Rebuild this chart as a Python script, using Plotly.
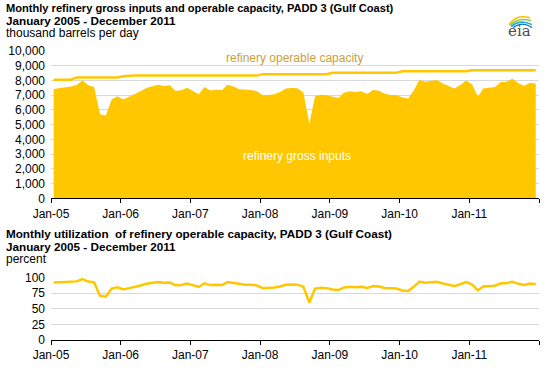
import pandas as pd
import plotly.graph_objects as go
from plotly.subplots import make_subplots

# ---------------- data ----------------
months = pd.date_range("2005-01-01", "2011-12-01", freq="MS") + pd.Timedelta(days=14)

gross_inputs = [
    7420, 7470, 7530, 7600, 7690, 8000, 7670, 7560, 5710, 5620, 6730, 6930,   # 2005
    6710, 6910, 7040, 7270, 7490, 7600, 7710, 7620, 7670, 7290, 7330, 7510,   # 2006
    7290, 7070, 7560, 7320, 7380, 7330, 7710, 7600, 7400, 7380, 7360, 7270,   # 2007
    7000, 7020, 7070, 7220, 7450, 7490, 7470, 7180, 5060, 6930, 7040, 7000,   # 2008
    6890, 6820, 7160, 7270, 7220, 7270, 7090, 7350, 7310, 7100, 7020, 7020,   # 2009
    6840, 6780, 7300, 8050, 7920, 7960, 8040, 7800, 7600, 7450, 7700, 8000,   # 2010
    7750, 6900, 7450, 7480, 7550, 7900, 7920, 8120, 7820, 7650, 7850, 7780,   # 2011
]

operable_capacity = (
    [8050] * 4 + [8200] * 8 +          # 2005
    [8280] + [8330] * 11 +             # 2006
    [8330] * 12 +                      # 2007
    [8430] * 12 +                      # 2008
    [8530] * 12 +                      # 2009
    [8630] * 12 +                      # 2010
    [8700] * 12                        # 2011
)

utilization = [
    92.2, 92.8, 93.5, 94.4, 93.8, 97.6, 93.5, 92.2, 70.5, 69.5, 82.1, 84.5,
    81.0, 83.0, 84.5, 87.3, 89.9, 91.2, 92.6, 91.5, 92.1, 87.5, 88.0, 90.2,
    87.5, 84.9, 90.8, 87.9, 88.6, 88.0, 92.6, 91.2, 88.8, 88.6, 88.4, 87.3,
    83.0, 83.3, 83.9, 85.6, 88.4, 88.8, 88.6, 85.2, 60.0, 82.2, 83.5, 83.0,
    80.8, 80.0, 83.9, 85.2, 84.6, 85.2, 83.1, 86.2, 85.7, 83.2, 82.3, 82.3,
    79.3, 78.6, 84.6, 93.3, 91.8, 92.2, 93.2, 90.4, 88.1, 86.3, 89.2, 92.7,
    89.1, 79.3, 85.6, 86.0, 86.8, 90.8, 91.0, 93.3, 89.9, 87.9, 90.2, 89.4,
]

tick_dates = ["2005-01-01", "2006-01-01", "2007-01-01", "2008-01-01",
              "2009-01-01", "2010-01-01", "2011-01-01", "2012-01-01"]
tick_labels = ["Jan-05", "Jan-06", "Jan-07", "Jan-08", "Jan-09", "Jan-10", "Jan-11", ""]

top_yticks = list(range(0, 10001, 1000))
bottom_yticks = [0, 25, 50, 75, 100]

# ---------------- layout geometry (pixels) ----------------
W, H = 547, 370
L, R, T, B = 48, 8, 51, 23
plot_w = W - L - R
plot_h = H - T - B

def px(x):
    return (x - L) / plot_w

def py(y):
    return (H - B - y) / plot_h

top_domain = [py(202), 1.0]
bot_domain = [0.0, py(283)]

GOLD = "#FFC700"
FONT = "Arial, Liberation Sans, sans-serif"

fig = make_subplots(rows=2, cols=1)

fig.add_trace(go.Scatter(x=months, y=gross_inputs, mode="lines", fill="tozeroy",
                         fillcolor=GOLD, line=dict(width=0, color=GOLD),
                         hoverinfo="skip", showlegend=False), row=1, col=1)
fig.add_trace(go.Scatter(x=months, y=operable_capacity, mode="lines",
                         line=dict(width=2.5, color=GOLD, shape="linear"),
                         hoverinfo="skip", showlegend=False), row=1, col=1)
fig.add_trace(go.Scatter(x=months, y=utilization, mode="lines",
                         line=dict(width=2.5, color=GOLD),
                         hoverinfo="skip", showlegend=False), row=2, col=1)

xcommon = dict(type="date", range=["2005-01-01", "2012-01-01"],
               tickmode="array", tickvals=tick_dates, ticktext=tick_labels,
               ticks="outside", ticklen=4, tickcolor="black", tickwidth=1,
               showline=True, linecolor="black", linewidth=1,
               showgrid=False, zeroline=False,
               tickfont=dict(family=FONT, size=12, color="black"))

fig.update_xaxes(**xcommon, row=1, col=1)
fig.update_xaxes(**xcommon, row=2, col=1)

ycommon = dict(showline=False, zeroline=False, showgrid=True,
               gridcolor="#d9d9d9", gridwidth=1, ticks="",
               tickfont=dict(family=FONT, size=12, color="black"),
               ticklabelstandoff=5)
fig.update_yaxes(**ycommon, range=[0, 10000], tickmode="array",
                 tickvals=top_yticks, tickformat=",", row=1, col=1)
fig.update_yaxes(**ycommon, range=[0, 100], tickmode="array",
                 tickvals=bottom_yticks, row=2, col=1)

fig.update_layout(
    width=W, height=H,
    margin=dict(l=L, r=R, t=T, b=B),
    paper_bgcolor="white", plot_bgcolor="white",
    font=dict(family=FONT, size=12, color="black"),
    yaxis=dict(domain=top_domain),
    yaxis2=dict(domain=bot_domain),
    hovermode=False,
)

ann = []
def text(x, y, s, size=12, bold=False, color="black", anchor="left"):
    if bold:
        s = "<b>" + s + "</b>"
    ann.append(dict(xref="paper", yref="paper", x=px(x), y=py(y), text=s,
                    showarrow=False, xanchor=anchor, yanchor="middle",
                    font=dict(family=FONT, size=size, color=color)))

text(1, 7, "Monthly refinery gross inputs and operable capacity, PADD 3 (Gulf Coast)", 11.1, True)
text(1, 20, "January 2005 - December 2011", 11.7, True)
text(1, 33, "thousand barrels per day", 12)
text(1, 238, "Monthly utilization\u00a0 of refinery operable capacity, PADD 3 (Gulf Coast)", 11.7, True)
text(1, 251, "January 2005 - December 2011", 11.7, True)
text(1, 264, "percent", 12)

text(293, 58, "refinery operable capacity", 12, color="#C9A03C", anchor="center")
text(296, 159, "refinery gross inputs", 12, color="white", anchor="center")

# eia logo text
ann.append(dict(xref="paper", yref="paper", x=px(519), y=py(31), text="eia",
                showarrow=False, xanchor="center", yanchor="middle",
                font=dict(family="DejaVu Serif, serif", size=15, color="#4d4d4d")))
fig.update_layout(annotations=ann)

def arc(x0, y0, cx, cy, x1, y1, color, w):
    path = "M {:.4f} {:.4f} Q {:.4f} {:.4f} {:.4f} {:.4f}".format(
        px(x0), py(y0), px(cx), py(cy), px(x1), py(y1))
    return dict(type="path", xref="paper", yref="paper", path=path,
                line=dict(color=color, width=w))

shapes = [
    arc(509, 24, 516, 13, 530, 17, "#F2C200", 1.6),
    arc(510, 25, 518, 16, 531, 20, "#8CC63F", 1.6),
    arc(511, 26, 520, 18, 532, 24, "#29A8E0", 1.6),
    arc(513, 27, 522, 20, 532, 27, "#0072BC", 1.3),
]
fig.update_layout(shapes=shapes)

# remove the browser's default page margin so the figure sits at the window origin
fig.write_html("out.html", config={"displayModeBar": False, "staticPlot": True},
               post_script="document.body.style.margin='0';")
